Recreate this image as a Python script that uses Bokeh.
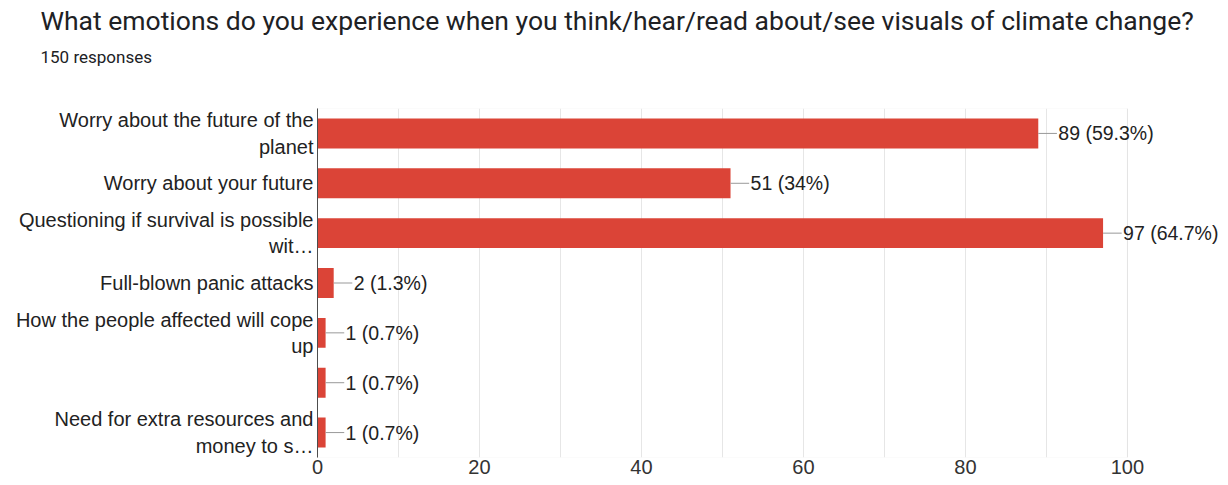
from bokeh.plotting import figure
from bokeh.models import Range1d, FixedTicker, Label, ColumnDataSource, Title, BoxAnnotation
from bokeh.embed import file_html
from bokeh.resources import INLINE

title_text = "What emotions do you experience when you think/hear/read about/see visuals of climate change?"
subtitle_text = "150 responses"
total = 150
categories = [
    "Worry about the future of the\nplanet",
    "Worry about your future",
    "Questioning if survival is possible\nwit\u2026",
    "Full-blown panic attacks",
    "How the people affected will cope\nup",
    "",
    "Need for extra resources and\nmoney to s\u2026",
]
counts = [89, 51, 97, 2, 1, 1, 1]
x_ticks = [0, 20, 40, 60, 80, 100]
grid_ticks = [10, 20, 30, 40, 50, 60, 70, 80, 90, 100]

positions = list(range(1, len(categories) + 1))
labels = [f"{c} ({round(c / total * 100, 1):g}%)" for c in counts]

FONT = "Liberation Sans"
RED = "#db4437"

src = ColumnDataSource(dict(pos=positions, count=counts, label=labels,
                            lx=[c + 2.3 for c in counts]))

p = figure(width=1220, height=476, output_backend="svg", toolbar_location=None,
           title=None,
           x_range=Range1d(0, 111.5), y_range=Range1d(len(categories) + 0.5, 0.5),
           min_border_left=317, min_border_right=0, min_border_top=10,
           min_border_bottom=0)
p.background_fill_color = "white"
p.border_fill_color = "white"
p.outline_line_color = None

spacer = Title(text=" ", text_font_size="2px", standoff=30)
sub = Title(text=subtitle_text, text_font="Roboto", text_font_size="17px",
            text_font_style="normal", text_color="#202124", align="left",
            offset=-277, standoff=15)
main = Title(text=title_text, text_font="Roboto", text_font_size="26.5px",
             text_font_style="normal", text_color="#202124", align="left",
             offset=-277, standoff=4)
p.add_layout(spacer, "above")
p.add_layout(sub, "above")
p.add_layout(main, "above")

p.add_layout(BoxAnnotation(left=0, right=100, fill_alpha=0,
                           line_color="#e0e0e0", line_width=1))

p.hbar(y="pos", right="count", height=0.6, left=0, source=src,
       fill_color=RED, line_color=None)
p.segment(x0="count", x1="lx", y0="pos", y1="pos", source=src,
          line_color="#999999", line_width=1)
for pos, c, lab in zip(positions, counts, labels):
    p.add_layout(Label(x=c, y=pos, text=lab, x_offset=20,
                       text_baseline="middle", text_font=FONT,
                       text_font_size="19.5px", text_color="#222222"))

p.yaxis.ticker = FixedTicker(ticks=positions, minor_ticks=[])
p.yaxis.major_label_overrides = {pos: cat for pos, cat in zip(positions, categories)}
p.yaxis.major_tick_line_color = None
p.yaxis.minor_tick_line_color = None
p.yaxis.major_tick_out = 0
p.yaxis.major_tick_in = 0
p.yaxis.axis_line_color = "#333333"
p.yaxis.major_label_text_font = FONT
p.yaxis.major_label_text_font_size = "20px"
p.yaxis.major_label_text_color = "#222222"
p.yaxis.major_label_text_line_height = 1.2
p.yaxis.major_label_standoff = 4

p.xaxis.ticker = FixedTicker(ticks=x_ticks, minor_ticks=[])
p.xaxis.axis_line_color = None
p.xaxis.major_tick_line_color = None
p.xaxis.minor_tick_line_color = None
p.xaxis.major_tick_out = 0
p.xaxis.major_tick_in = 0
p.xaxis.axis_label_standoff = 0
p.xaxis.major_label_text_font = FONT
p.xaxis.major_label_text_font_size = "20px"
p.xaxis.major_label_text_color = "#333333"
p.xaxis.major_label_standoff = 2

p.xgrid.ticker = FixedTicker(ticks=grid_ticks, minor_ticks=[])
p.xgrid.grid_line_color = "#e6e6e6"
p.ygrid.grid_line_color = None

open("out.html", "w").write(file_html(p, INLINE))
